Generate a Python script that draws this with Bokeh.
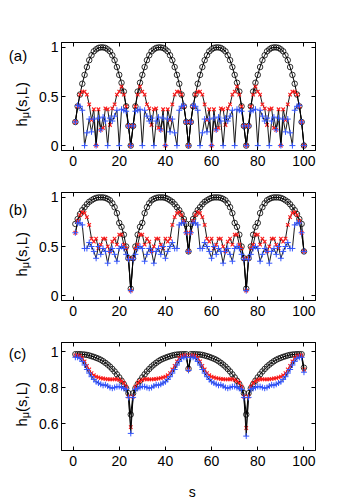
import math
from bokeh.plotting import figure
from bokeh.layouts import column, row
from bokeh.models import (Range1d, LinearAxis, FixedTicker,
                          CustomJSTickFormatter, ColumnDataSource)
from bokeh.core.properties import value
from bokeh.embed import file_html
from bokeh.resources import INLINE

# ---------------- data ----------------
s = list(range(1, 101))
x_ticks = [0, 20, 40, 60, 80, 100]
y_ticks_ab = [0, 0.5, 1]
y_ticks_c = [0.6, 0.8, 1]
panel_tags = ["(a)", "(b)", "(c)"]
x_label = "s"

a_circle = [
    0.24, 0.40, 0.52, 0.63, 0.72, 0.80, 0.87, 0.92, 0.96, 0.98, 0.995, 1.0, 1.0, 0.995, 0.98, 0.96, 0.92, 0.87, 0.80, 0.72, 0.64, 0.55, 0.40, 0.20, 0.0,
    0.20, 0.40, 0.55, 0.64, 0.72, 0.80, 0.87, 0.92, 0.96, 0.98, 0.995, 1.0, 1.0, 0.995, 0.98, 0.96, 0.92, 0.87, 0.80, 0.72, 0.63, 0.52, 0.40, 0.24, 0.0,
    0.24, 0.40, 0.52, 0.63, 0.72, 0.80, 0.87, 0.92, 0.96, 0.98, 0.995, 1.0, 1.0, 0.995, 0.98, 0.96, 0.92, 0.87, 0.80, 0.72, 0.64, 0.55, 0.40, 0.20, 0.0,
    0.20, 0.40, 0.55, 0.64, 0.72, 0.80, 0.87, 0.92, 0.96, 0.98, 0.995, 1.0, 1.0, 0.995, 0.98, 0.96, 0.92, 0.87, 0.80, 0.72, 0.63, 0.52, 0.40, 0.24, 0.0,
]
a_red = [
    0.24, 0.40, 0.52, 0.55, 0.55, 0.52, 0.42, 0.26, 0.37, 0.0, 0.37, 0.16, 0.18, 0.38, 0.37, 0.21, 0.38, 0.42, 0.52, 0.55, 0.60, 0.52, 0.40, 0.20, 0.0,
    0.20, 0.40, 0.52, 0.60, 0.55, 0.52, 0.42, 0.38, 0.21, 0.37, 0.38, 0.18, 0.16, 0.37, 0.0, 0.37, 0.26, 0.42, 0.52, 0.55, 0.55, 0.52, 0.40, 0.24, 0.0,
    0.24, 0.40, 0.52, 0.55, 0.55, 0.52, 0.42, 0.26, 0.37, 0.0, 0.37, 0.16, 0.18, 0.38, 0.37, 0.21, 0.38, 0.42, 0.52, 0.55, 0.60, 0.52, 0.40, 0.20, 0.0,
    0.20, 0.40, 0.52, 0.60, 0.55, 0.52, 0.42, 0.38, 0.21, 0.37, 0.38, 0.18, 0.16, 0.37, 0.0, 0.37, 0.26, 0.42, 0.52, 0.55, 0.55, 0.52, 0.40, 0.24, 0.0,
]
a_blue = [
    0.24, 0.41, 0.40, 0.36, 0.0, 0.13, 0.27, 0.14, 0.27, 0.0, 0.28, 0.16, 0.29, 0.25, 0.0, 0.28, 0.25, 0.30, 0.36, 0.0, 0.37, 0.36, 0.35, 0.20, 0.0,
    0.20, 0.35, 0.36, 0.37, 0.0, 0.36, 0.30, 0.25, 0.28, 0.0, 0.25, 0.29, 0.16, 0.28, 0.0, 0.27, 0.14, 0.27, 0.13, 0.0, 0.36, 0.40, 0.41, 0.24, 0.0,
    0.24, 0.41, 0.40, 0.36, 0.0, 0.13, 0.27, 0.14, 0.27, 0.0, 0.28, 0.16, 0.29, 0.25, 0.0, 0.28, 0.25, 0.30, 0.36, 0.0, 0.37, 0.36, 0.35, 0.20, 0.0,
    0.20, 0.35, 0.36, 0.37, 0.0, 0.36, 0.30, 0.25, 0.28, 0.0, 0.25, 0.29, 0.16, 0.28, 0.0, 0.27, 0.14, 0.27, 0.13, 0.0, 0.36, 0.40, 0.41, 0.24, 0.0,
]

b_circle = [
    0.73, 0.78, 0.83, 0.87, 0.90, 0.93, 0.955, 0.97, 0.985, 0.995, 1.0, 1.0, 1.0, 0.995, 0.985, 0.97, 0.94, 0.90, 0.84, 0.74, 0.70, 0.62, 0.50, 0.38, 0.07,
    0.38, 0.50, 0.62, 0.70, 0.74, 0.84, 0.90, 0.94, 0.97, 0.985, 0.995, 1.0, 1.0, 1.0, 0.995, 0.985, 0.97, 0.955, 0.93, 0.90, 0.87, 0.83, 0.78, 0.73, 0.45,
    0.73, 0.78, 0.83, 0.87, 0.90, 0.93, 0.955, 0.97, 0.985, 0.995, 1.0, 1.0, 1.0, 0.995, 0.985, 0.97, 0.94, 0.90, 0.84, 0.74, 0.70, 0.62, 0.50, 0.38, 0.07,
    0.38, 0.50, 0.62, 0.70, 0.74, 0.84, 0.90, 0.94, 0.97, 0.985, 0.995, 1.0, 1.0, 1.0, 0.995, 0.985, 0.97, 0.955, 0.93, 0.90, 0.87, 0.83, 0.78, 0.73, 0.45,
]
b_red = [
    0.64, 0.76, 0.82, 0.85, 0.84, 0.80, 0.72, 0.58, 0.55, 0.58, 0.48, 0.52, 0.58, 0.58, 0.50, 0.45, 0.55, 0.58, 0.52, 0.62, 0.62, 0.52, 0.48, 0.38, 0.05,
    0.38, 0.48, 0.52, 0.62, 0.62, 0.52, 0.58, 0.55, 0.45, 0.50, 0.58, 0.58, 0.52, 0.48, 0.58, 0.55, 0.58, 0.72, 0.80, 0.84, 0.85, 0.82, 0.76, 0.64, 0.45,
    0.64, 0.76, 0.82, 0.85, 0.84, 0.80, 0.72, 0.58, 0.55, 0.58, 0.48, 0.52, 0.58, 0.58, 0.50, 0.45, 0.55, 0.58, 0.52, 0.62, 0.62, 0.52, 0.48, 0.38, 0.05,
    0.38, 0.48, 0.52, 0.62, 0.62, 0.52, 0.58, 0.55, 0.45, 0.50, 0.58, 0.58, 0.52, 0.48, 0.58, 0.55, 0.58, 0.72, 0.80, 0.84, 0.85, 0.82, 0.76, 0.64, 0.45,
]
b_blue = [
    0.64, 0.74, 0.74, 0.72, 0.48, 0.48, 0.54, 0.50, 0.45, 0.38, 0.50, 0.42, 0.48, 0.45, 0.33, 0.45, 0.48, 0.42, 0.35, 0.48, 0.50, 0.48, 0.42, 0.37, 0.05,
    0.37, 0.42, 0.48, 0.50, 0.48, 0.35, 0.42, 0.48, 0.45, 0.33, 0.45, 0.48, 0.42, 0.50, 0.38, 0.45, 0.50, 0.54, 0.48, 0.48, 0.72, 0.74, 0.74, 0.64, 0.45,
    0.64, 0.74, 0.74, 0.72, 0.48, 0.48, 0.54, 0.50, 0.45, 0.38, 0.50, 0.42, 0.48, 0.45, 0.33, 0.45, 0.48, 0.42, 0.35, 0.48, 0.50, 0.48, 0.42, 0.37, 0.05,
    0.37, 0.42, 0.48, 0.50, 0.48, 0.35, 0.42, 0.48, 0.45, 0.33, 0.45, 0.48, 0.42, 0.50, 0.38, 0.45, 0.50, 0.54, 0.48, 0.48, 0.72, 0.74, 0.74, 0.64, 0.45,
]

c_circle = [
    0.985, 0.985, 0.985, 0.984, 0.983, 0.981, 0.978, 0.974, 0.970, 0.965, 0.960, 0.954, 0.946, 0.937, 0.927, 0.916, 0.903, 0.889, 0.873, 0.856, 0.838, 0.818, 0.795, 0.768, 0.650,
    0.768, 0.795, 0.818, 0.838, 0.856, 0.873, 0.889, 0.903, 0.916, 0.927, 0.937, 0.946, 0.954, 0.960, 0.965, 0.970, 0.974, 0.978, 0.981, 0.983, 0.984, 0.985, 0.985, 0.985, 0.904,
    0.985, 0.985, 0.985, 0.984, 0.983, 0.981, 0.978, 0.974, 0.970, 0.965, 0.960, 0.954, 0.946, 0.937, 0.927, 0.916, 0.903, 0.889, 0.873, 0.856, 0.838, 0.818, 0.795, 0.768, 0.650,
    0.768, 0.795, 0.818, 0.838, 0.856, 0.873, 0.889, 0.903, 0.916, 0.927, 0.937, 0.946, 0.954, 0.960, 0.965, 0.970, 0.974, 0.978, 0.981, 0.983, 0.984, 0.985, 0.985, 0.985, 0.910,
]
c_red = [
    0.978, 0.978, 0.976, 0.965, 0.945, 0.920, 0.900, 0.880, 0.868, 0.860, 0.856, 0.852, 0.850, 0.848, 0.846, 0.845, 0.845, 0.846, 0.846, 0.842, 0.835, 0.825, 0.805, 0.750, 0.580,
    0.750, 0.805, 0.825, 0.835, 0.842, 0.846, 0.846, 0.845, 0.845, 0.846, 0.848, 0.850, 0.852, 0.856, 0.860, 0.868, 0.880, 0.900, 0.920, 0.945, 0.965, 0.976, 0.978, 0.978, 0.900,
    0.978, 0.978, 0.976, 0.965, 0.945, 0.920, 0.900, 0.880, 0.868, 0.860, 0.856, 0.852, 0.850, 0.848, 0.846, 0.845, 0.845, 0.846, 0.846, 0.842, 0.835, 0.825, 0.805, 0.750, 0.575,
    0.750, 0.805, 0.825, 0.835, 0.842, 0.846, 0.846, 0.845, 0.845, 0.846, 0.848, 0.850, 0.852, 0.856, 0.860, 0.868, 0.880, 0.900, 0.920, 0.945, 0.965, 0.976, 0.978, 0.978, 0.900,
]
c_blue = [
    0.968, 0.968, 0.962, 0.945, 0.925, 0.900, 0.880, 0.860, 0.845, 0.832, 0.825, 0.818, 0.812, 0.815, 0.808, 0.800, 0.796, 0.800, 0.805, 0.806, 0.800, 0.795, 0.790, 0.745, 0.545,
    0.745, 0.790, 0.795, 0.800, 0.806, 0.805, 0.800, 0.796, 0.800, 0.808, 0.815, 0.812, 0.818, 0.825, 0.832, 0.845, 0.860, 0.880, 0.900, 0.925, 0.945, 0.962, 0.968, 0.968, 0.895,
    0.968, 0.968, 0.962, 0.945, 0.925, 0.900, 0.880, 0.860, 0.845, 0.832, 0.825, 0.818, 0.812, 0.815, 0.808, 0.800, 0.796, 0.800, 0.805, 0.806, 0.800, 0.795, 0.790, 0.745, 0.530,
    0.745, 0.790, 0.795, 0.800, 0.806, 0.805, 0.800, 0.796, 0.800, 0.808, 0.815, 0.812, 0.818, 0.825, 0.832, 0.845, 0.860, 0.880, 0.900, 0.925, 0.945, 0.962, 0.968, 0.968, 0.885,
]

# ---------------- style ----------------
FONT = "Liberation Sans"
RED = "#ff1a1a"
BLUE = "#3355ff"
TOTAL_H = 500
STRIP_W = 36
MAIN_W = 299
XLAB_H = 26


def style_axis(ax, ticks, show_labels, standoff):
    ax.ticker = FixedTicker(ticks=ticks)
    ax.major_tick_in = 4
    ax.major_tick_out = 0
    ax.minor_tick_line_color = None
    ax.axis_line_color = "black"
    ax.axis_line_width = 1
    ax.major_tick_line_color = "black"
    ax.major_label_text_font = FONT
    if show_labels:
        ax.major_label_text_font_size = "14px"
        ax.major_label_text_color = "black"
        ax.major_label_standoff = standoff
    else:
        ax.major_label_text_font_size = "0px"
        ax.major_label_text_color = None
        ax.major_label_standoff = 0


def make_panel(circle, red, blue, yr, yticks, height, bt, bb):
    p = figure(width=MAIN_W, height=height, x_range=Range1d(-5, 105), y_range=Range1d(*yr),
               output_backend="svg", toolbar_location=None,
               min_border_left=23, min_border_right=20, min_border_top=bt, min_border_bottom=bb)
    p.grid.visible = False
    p.outline_line_color = "black"
    p.outline_line_width = 1
    p.background_fill_color = "white"
    p.border_fill_color = "white"

    style_axis(p.xaxis[0], x_ticks, True, 5)
    style_axis(p.yaxis[0], yticks, True, 3)
    p.yaxis[0].formatter = CustomJSTickFormatter(code="return String(tick)")

    right = LinearAxis()
    style_axis(right, yticks, False, 0)
    p.add_layout(right, "right")
    top = LinearAxis()
    style_axis(top, x_ticks, False, 0)
    p.add_layout(top, "above")

    src = ColumnDataSource(dict(s=s, c=circle, r=red, b=blue))
    p.line("s", "c", source=src, line_color="black", line_width=1)
    p.scatter("s", "c", source=src, marker="circle", size=5.5, fill_color=None,
              line_color="black", line_width=0.8)
    p.line("s", "r", source=src, line_color="black", line_width=0.9)
    p.scatter("s", "r", source=src, marker="x", size=5, line_color=RED, line_width=1.1)
    p.line("s", "b", source=src, line_color="black", line_width=0.9)
    p.scatter("s", "b", source=src, marker="cross", size=6, line_color=BLUE, line_width=1)
    return p


def blank(width, height):
    f = figure(width=width, height=height, x_range=Range1d(0, width),
               y_range=Range1d(0, height), x_axis_type=None, y_axis_type=None,
               output_backend="svg", toolbar_location=None,
               min_border=0, min_border_left=0, min_border_right=0,
               min_border_top=0, min_border_bottom=0)
    f.grid.visible = False
    f.outline_line_color = None
    f.background_fill_color = "white"
    f.border_fill_color = "white"
    return f


pa = make_panel(a_circle, a_red, a_blue, (-0.05, 1.05), y_ticks_ab, 180, 42, 30)
pb = make_panel(b_circle, b_red, b_blue, (-0.05, 1.05), y_ticks_ab, 150, 12, 30)
pc = make_panel(c_circle, c_red, c_blue, (0.45, 1.05), y_ticks_c, 144, 12, 24)

# strip below (c) holding the x-axis title
xlab = blank(MAIN_W, XLAB_H)
xlab.text(x=[154], y=[9], text=[x_label], text_font=value(FONT), text_font_size=value("14px"),
          text_baseline="alphabetic", text_align="center", text_color="black")

# ---- left strip holding the panel tags and rotated y labels (pixel coordinates) ----
strip = blank(STRIP_W, TOTAL_H)


def py(page_y):
    return TOTAL_H - page_y


tag_baselines = [55, 209, 353]
frame_bottoms = [150, 300, 450]
strip.text(x=[8.3] * 3, y=[py(v) for v in tag_baselines], text=panel_tags,
           text_font=value(FONT), text_font_size=value("15px"),
           text_baseline="alphabetic", text_align="left", text_color="black")

h_start = [fb - 24 for fb in frame_bottoms]
ang = math.pi / 2
strip.text(x=[20.5] * 3, y=[py(v) for v in h_start], text=["h"] * 3, angle=ang,
           text_font=value(FONT), text_font_size=value("15px"),
           text_baseline="alphabetic", text_align="left", text_color="black")
strip.text(x=[24.0] * 3, y=[py(v - 8.3) for v in h_start], text=["μ"] * 3, angle=ang,
           text_font=value(FONT), text_font_size=value("11px"),
           text_baseline="alphabetic", text_align="left", text_color="black")
strip.text(x=[20.5] * 3, y=[py(v - 14.6) for v in h_start], text=["(s,L)"] * 3, angle=ang,
           text_font=value(FONT), text_font_size=value("15px"),
           text_baseline="alphabetic", text_align="left", text_color="black")

layout = row(strip, column(pa, pb, pc, xlab, spacing=0), spacing=0)
open("out.html", "w").write(file_html(layout, INLINE))
